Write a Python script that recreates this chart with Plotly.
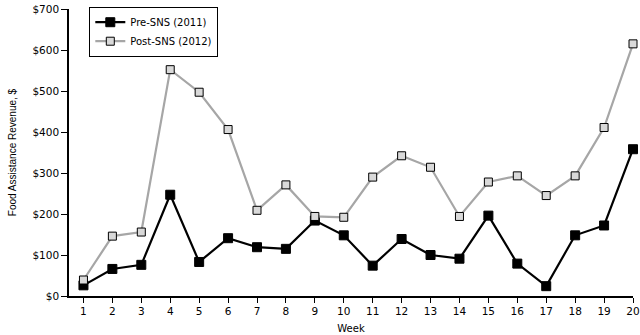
import plotly.graph_objects as go

weeks = list(range(1, 21))
pre_sns_2011 = [26, 66, 76, 247, 83, 141, 119, 115, 184, 148,
                74, 139, 100, 91, 196, 79, 24, 148, 172, 358]
post_sns_2012 = [39, 146, 156, 552, 497, 406, 209, 271, 194, 192,
                 290, 342, 314, 194, 278, 293, 245, 293, 411, 615]
y_tick_vals = [0, 100, 200, 300, 400, 500, 600, 700]
y_tick_text = ["$0", "$100", "$200", "$300", "$400", "$500", "$600", "$700"]

tick_font = dict(family="DejaVu Sans, Verdana, sans-serif", size=10.5, color="#000")

fig = go.Figure()
fig.add_trace(go.Scatter(
    x=weeks, y=pre_sns_2011, name="Pre-SNS (2011)", mode="lines+markers",
    line=dict(color="#000000", width=2.2),
    marker=dict(symbol="square", size=9, color="#000000",
                line=dict(color="#000000", width=1)),
    cliponaxis=False,
))
fig.add_trace(go.Scatter(
    x=weeks, y=post_sns_2012, name="Post-SNS (2012)", mode="lines+markers",
    line=dict(color="#a6a6a6", width=2.2),
    marker=dict(symbol="square", size=8, color="#d9d9d9",
                line=dict(color="#000000", width=1)),
    cliponaxis=False,
))

fig.update_layout(
    width=640, height=335,
    margin=dict(l=69, r=7, t=7, b=39),
    paper_bgcolor="#ffffff", plot_bgcolor="#ffffff",
    showlegend=True,
    legend=dict(
        x=0.036, y=1.008, xanchor="left", yanchor="top",
        bgcolor="#ffffff", bordercolor="#000000", borderwidth=1,
        font=dict(family="DejaVu Sans, Verdana, sans-serif", size=10, color="#000"),
        traceorder="normal", tracegroupgap=0, itemwidth=30,
    ),
    xaxis=dict(
        range=[0.5, 20], tickvals=weeks, ticktext=[str(w) for w in weeks],
        showgrid=False, zeroline=False, showline=True, linecolor="#000",
        linewidth=1.5, ticks="outside", ticklen=5, tickcolor="#000",
        tickfont=tick_font, automargin=False,
        title=dict(text="Week", font=dict(family="DejaVu Sans, Verdana, sans-serif",
                                         size=10, color="#000"), standoff=9),
    ),
    yaxis=dict(
        range=[0, 700], tickvals=y_tick_vals, ticktext=y_tick_text,
        showgrid=False, zeroline=False, showline=True, linecolor="#000",
        linewidth=1.5, ticks="outside", ticklen=6, tickcolor="#000",
        tickfont=tick_font, automargin=False,
        title=dict(text="Food Assistance Revenue, $",
                   font=dict(family="Liberation Sans, Arial, sans-serif",
                             size=10, color="#000"), standoff=14),
    ),
)

fig.write_html("out.html")
